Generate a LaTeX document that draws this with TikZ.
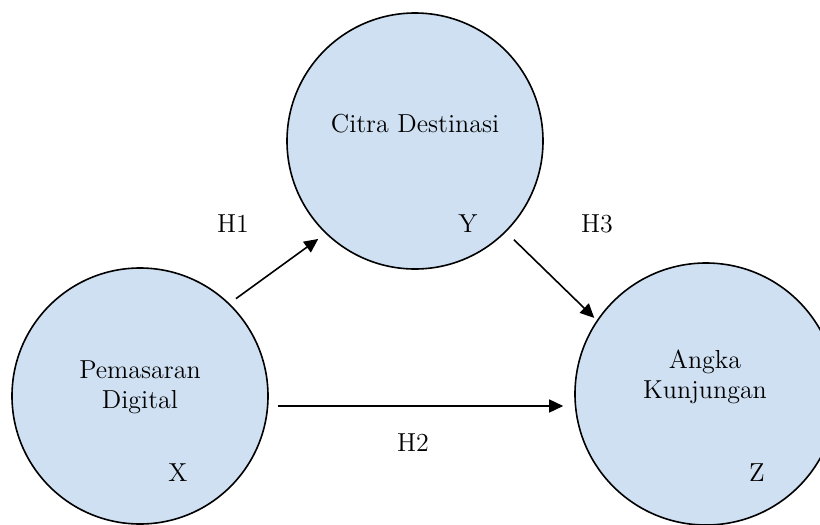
\documentclass[tikz,border=0pt]{standalone}
\usetikzlibrary{arrows.meta}
\definecolor{bubble}{RGB}{207,224,242}
\begin{document}
\begin{tikzpicture}[x=0.5pt, y=-0.5pt,
    varnode/.style={circle, draw=black, line width=0.8pt, fill=bubble, minimum size=128pt, inner sep=0pt},
    txt/.style={font=\fontsize{13}{15}\selectfont, align=center, inner sep=0pt},
    path/.style={-{Triangle[length=7pt,width=6.5pt]}, line width=0.8pt}]
    \useasboundingbox (0,0) rectangle (820,525);
    % Place nodes
    \node[varnode] (cd) at (415,141) {};
    \node[varnode] (pd) at (140,396) {};
    \node[varnode, minimum size=131pt] (ak) at (706,394) {};
    % Texts in circles
    \node[txt] (cdname) at (415,124) {Citra Destinasi};
    \node[txt] (cdvar)  at (468,224) {Y};
    \node[txt] (pdname) at (140,387) {Pemasaran\\Digital};
    \node[txt] (pdvar)  at (178,473) {X};
    \node[txt] (akname) at (705,377) {Angka\\Kunjungan};
    \node[txt] (akvar)  at (757,473) {Z};
    % Hypotheses
    \node[txt] (hone)   at (233,224) {H1};
    \node[txt] (htwo)   at (413,443) {H2};
    \node[txt] (hthree) at (597,224) {H3};
    % Create edges
      \draw[path, shorten <=4pt, shorten >=4.5pt] (pd.46) -- (cd.226);
      \draw[path, shorten <=5.5pt, shorten >=1.75pt] (cd.-45) -- (ak.146);
      \draw[path, shorten <=4.5pt, shorten >=5.5pt] ([yshift=-5pt]pd.east) -- ([yshift=-6pt]ak.west);
  \end{tikzpicture}
\end{document}
